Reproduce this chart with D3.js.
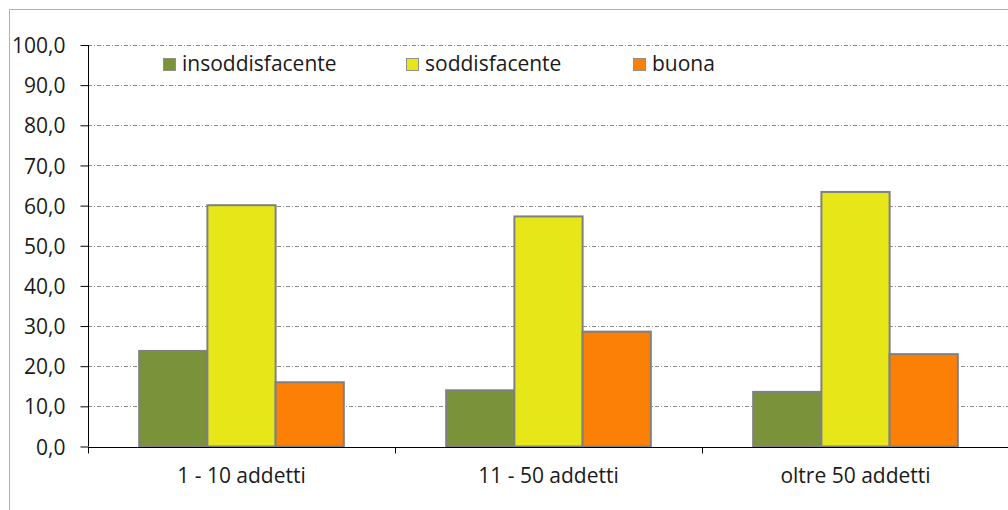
<!DOCTYPE html>
<html>
<head>
<meta charset="utf-8">
<script src="https://cdn.jsdelivr.net/npm/d3@7"></script>
<style>
  body { margin: 0; background: #fff; }
  svg text { font-family: "Open Sans", sans-serif; fill: #1a1a1a; }
</style>
</head>
<body>
<div class="plot"></div>
<script>
// data
var categories = ["1 - 10 addetti", "11 - 50 addetti", "oltre 50 addetti"];
var series = ["insoddisfacente", "soddisfacente", "buona"];
var insoddisfacente = [23.8, 14.0, 13.6];
var soddisfacente = [60.1, 57.3, 63.4];
var buona = [16.0, 28.6, 23.0];
var y_ticks = [0, 10, 20, 30, 40, 50, 60, 70, 80, 90, 100];

var colors = {"insoddisfacente": "#7a933b", "soddisfacente": "#e6e619", "buona": "#fc8006"};

var width = 1008, height = 510;
var margin = {top: 45, right: 0, bottom: 63, left: 88};
var font_size = "21px";

var rows = categories.map(function(c, i) {
  return {cat: c, insoddisfacente: insoddisfacente[i], soddisfacente: soddisfacente[i], buona: buona[i]};
});

var svg = d3.select(".plot")
  .append("svg")
  .attr("width", width)
  .attr("height", height);

// outer frame
svg.append("path")
  .attr("d", "M9.5," + height + "V9.5H" + width)
  .attr("fill", "none")
  .attr("stroke", "#b0b0b0")
  .attr("stroke-width", 1);

var x = d3.scaleBand()
  .domain(categories)
  .range([margin.left, 1009])
  .paddingInner(0)
  .paddingOuter(0);

var x1 = d3.scaleBand()
  .domain(series)
  .range([0, x.bandwidth()])
  .paddingOuter(0.75)
  .paddingInner(0);

var y = d3.scaleLinear()
  .domain([0, 100])
  .range([height - margin.bottom - 0.5, margin.top]);

// gridlines
svg.append("g")
  .selectAll("line")
  .data(y_ticks.slice(1))
  .enter()
  .append("line")
    .attr("x1", margin.left)
    .attr("x2", width)
    .attr("y1", function(d) { return Math.round(y(d)) + 0.5; })
    .attr("y2", function(d) { return Math.round(y(d)) + 0.5; })
    .attr("stroke", "#8a8a8a")
    .attr("stroke-width", 1)
    .attr("stroke-dasharray", "4,2,1,2");

// bars
svg.append("g")
  .selectAll("g")
  .data(rows)
  .enter()
  .append("g")
    .attr("transform", function(d) { return "translate(" + x(d.cat) + ",0)"; })
  .selectAll("rect")
  .data(function(d) { return series.map(function(s) { return {key: s, value: d[s]}; }); })
  .enter()
  .append("rect")
    .attr("x", function(d) { return x1(d.key); })
    .attr("y", function(d) { return y(d.value); })
    .attr("width", x1.bandwidth())
    .attr("height", function(d) { return y(0) - y(d.value); })
    .attr("fill", function(d) { return colors[d.key]; })
    .attr("stroke", "#808080")
    .attr("stroke-width", 2);

// y-axis
var yAxis = svg.append("g")
  .attr("transform", "translate(" + (margin.left + 0.5) + ",0)")
  .call(d3.axisLeft(y).tickValues(y_ticks).tickSize(8).tickPadding(15)
    .tickFormat(function(d) { return d3.format(".1f")(d).replace(".", ","); }));
yAxis.select(".domain").attr("stroke", "#000").attr("d", "M0," + y(100) + "V" + y(0));
yAxis.selectAll(".tick line").attr("stroke", "#000");
yAxis.selectAll("text")
  .style("font-size", font_size)
  .attr("dy", "0.36em");

// x-axis
var xAxis = svg.append("g")
  .attr("transform", "translate(0," + (Math.round(y(0)) + 0.5) + ")");
xAxis.append("line")
  .attr("x1", margin.left)
  .attr("x2", width)
  .attr("stroke", "#000");
xAxis.selectAll(".xtick")
  .data(categories.map(function(c) { return x(c); }).concat([x.range()[1]]))
  .enter()
  .append("line")
    .attr("x1", function(d) { return Math.round(d) + 0.5; })
    .attr("x2", function(d) { return Math.round(d) + 0.5; })
    .attr("y1", 0)
    .attr("y2", 6)
    .attr("stroke", "#000");
xAxis.selectAll("text")
  .data(categories)
  .enter()
  .append("text")
    .attr("x", function(d) { return x(d) + x.bandwidth() / 2; })
    .attr("y", 35)
    .attr("text-anchor", "middle")
    .style("font-size", font_size)
    .text(function(d) { return d; });

// legend
var legend_x = [163, 406, 633];
var legend = svg.append("g").attr("class", "legend");
legend.selectAll("rect")
  .data(series)
  .enter()
  .append("rect")
    .attr("x", function(d, i) { return legend_x[i] + 0.5; })
    .attr("y", 58.5)
    .attr("width", 12)
    .attr("height", 12)
    .attr("fill", function(d) { return colors[d]; })
    .attr("stroke", "#909090")
    .attr("stroke-width", 1);
legend.selectAll("text")
  .data(series)
  .enter()
  .append("text")
    .attr("x", function(d, i) { return legend_x[i] + 19; })
    .attr("y", 71)
    .style("font-size", font_size)
    .text(function(d) { return d; });
</script>
</body>
</html>
